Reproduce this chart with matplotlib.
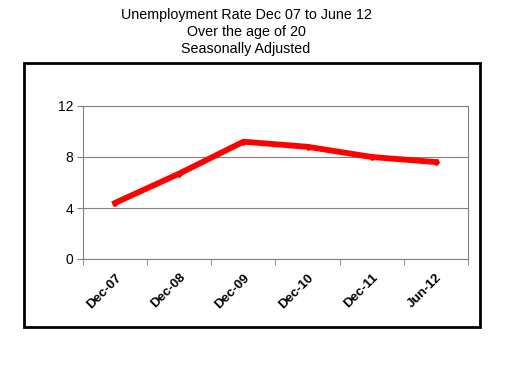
import matplotlib
matplotlib.use("Agg")
import matplotlib.pyplot as plt
from matplotlib.patches import Rectangle
import numpy as np

months = ["Dec-07", "Dec-08", "Dec-09", "Dec-10", "Dec-11", "Jun-12"]
rate = [4.4, 6.7, 9.2, 8.8, 8.0, 7.6]
y_ticks = [0, 4, 8, 12]

plt.rcParams['font.family'] = ['Liberation Sans', 'DejaVu Sans']

fig = plt.figure(figsize=(5.2, 3.9), dpi=100)
fig.patch.set_facecolor('white')

# outer chart frame
fig.patches.append(Rectangle((24 / 520, 1 - 327 / 390), 456 / 520, 264 / 390,
                             transform=fig.transFigure, fill=False,
                             edgecolor='black', linewidth=2))

fig.text(0.473, 1 - 8 / 390, "Unemployment Rate Dec 07 to June 12\nOver the age of 20\nSeasonally Adjusted",
         ha='center', va='top', fontsize=10.3, linespacing=1.27)

ax = fig.add_axes([83 / 520, 1 - 259 / 390, 385 / 520, 153 / 390])
x = np.arange(len(months))
ax.plot(x, rate, color='#ff0000', linewidth=4.2, marker='D', markersize=3,
        solid_joinstyle='round')

ax.set_xlim(-0.5, len(months) - 0.5)
ax.set_ylim(0, 12)
ax.set_yticks(y_ticks)
ax.set_yticklabels([str(v) for v in y_ticks], fontsize=10)
ax.set_xticks(x)
ax.set_xticklabels(months, rotation=45, ha='right', rotation_mode='anchor',
                   fontsize=9.5, fontweight='bold')
ax.tick_params(axis='x', length=0, pad=9)
ax.set_xticks(np.arange(-0.5, len(months)), minor=True)
ax.tick_params(axis='x', which='minor', length=4, color='#808080')
ax.tick_params(axis='y', length=4, color='#808080', pad=3)

ax.yaxis.grid(True, color='#808080', linewidth=0.8)
ax.set_axisbelow(True)
for s in ax.spines.values():
    s.set_color('#808080')
    s.set_linewidth(0.8)

fig.savefig("out.png", dpi=100)
